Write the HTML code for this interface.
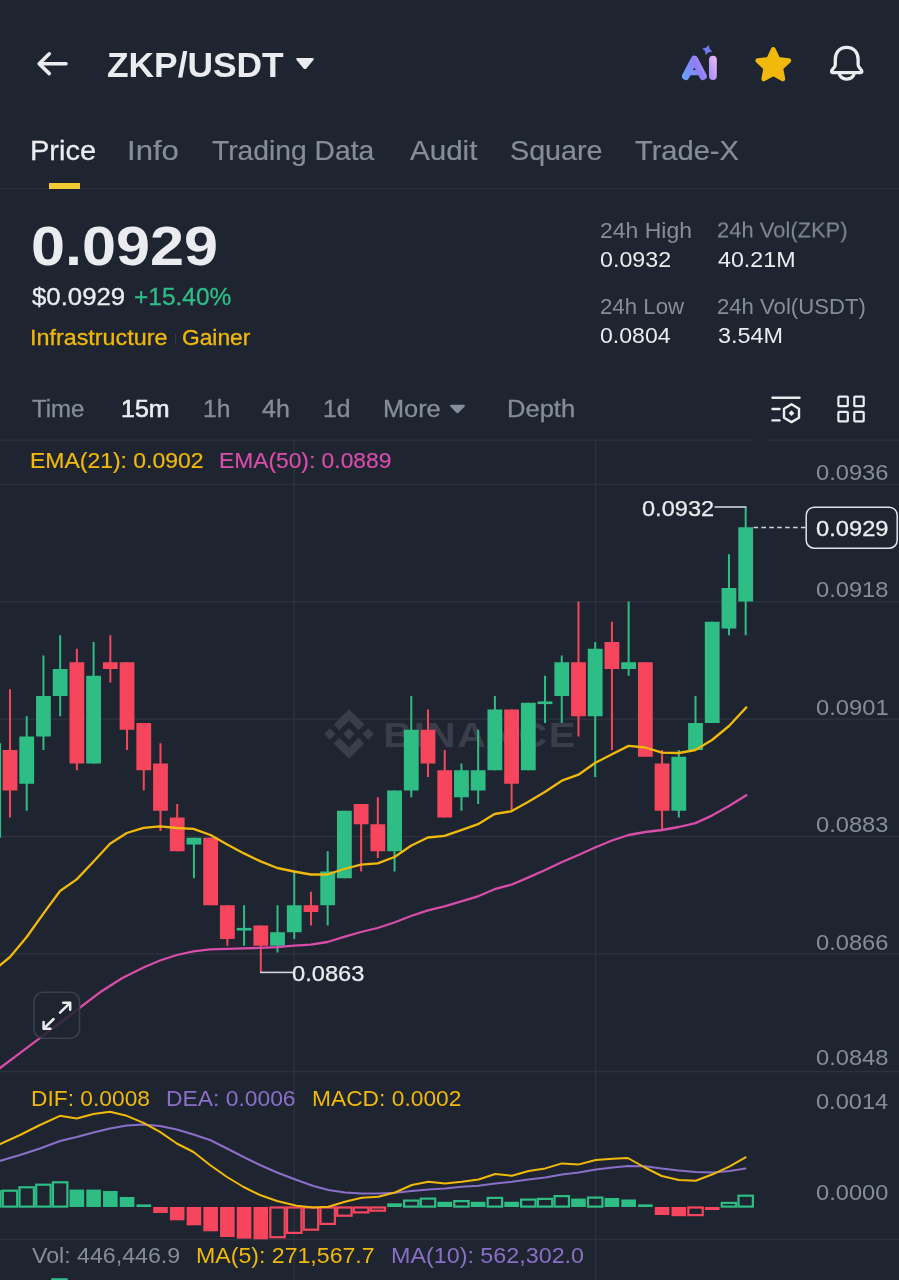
<!DOCTYPE html>
<html lang="en"><head><meta charset="utf-8"><title>ZKP/USDT</title>
<style>
*{margin:0;padding:0;box-sizing:border-box}
html,body{width:899px;height:1280px;overflow:hidden;background:#1f2530}
body{position:relative;font-family:"Liberation Sans",sans-serif;color:#eaecef}
.t{position:absolute;white-space:nowrap;transform-origin:0 0;will-change:transform}
svg{position:absolute;left:0;top:0}
.bar{position:absolute;background:#f3cb33}
.sep{position:absolute;left:0;width:899px;height:1.5px;background:#2a2f3a}
</style></head><body>
<div class="sep" style="top:187.7px"></div>
<div class="bar" style="left:48.5px;top:183px;width:31.5px;height:5.5px"></div>
<div style="position:absolute;left:175px;top:334px;width:1.3px;height:10px;background:#343944"></div>
<svg id="chart" width="899" height="1280" viewBox="0 0 899 1280">
<rect x="0" y="483.65" width="899" height="1.5" fill="#2c323d"/>
<rect x="0" y="601.05" width="899" height="1.5" fill="#2c323d"/>
<rect x="0" y="718.45" width="899" height="1.5" fill="#2c323d"/>
<rect x="0" y="835.85" width="899" height="1.5" fill="#2c323d"/>
<rect x="0" y="953.25" width="899" height="1.5" fill="#2c323d"/>
<rect x="0" y="439.45" width="899" height="1.5" fill="#2c323d"/>
<rect x="0" y="1070.85" width="899" height="1.5" fill="#2c323d"/>
<rect x="0" y="1238.75" width="899" height="1.5" fill="#2c323d"/>
<rect x="293.45" y="440" width="1.5" height="840" fill="#2c323d"/>
<rect x="594.85" y="440" width="1.5" height="840" fill="#2c323d"/>
<g fill="#393e4a" transform="translate(349,734) scale(0.394)"><path d="M0-63 L-39-24 L-24.5-9.5 L0-34 L24.5-9.5 L39-24 Z"/><path d="M-63 0 L-48.5-14.5 L-34 0 L-48.5 14.5 Z"/><path d="M63 0 L48.5-14.5 L34 0 L48.5 14.5 Z"/><path d="M0-14.5 L14.5 0 L0 14.5 L-14.5 0 Z"/><path d="M0 63 L-39 24 L-24.5 9.5 L0 34 L24.5 9.5 L39 24 Z"/></g>
<text transform="translate(383.2,746.8) scale(1.1,1)" font-family="Liberation Sans, sans-serif" font-weight="700" font-size="36" letter-spacing="1.75" fill="#393e4a">BINANCE</text>
<rect x="-0.5" y="743.25" width="1.6" height="94.5" fill="#2ebd85"/>
<rect x="9.00" y="689.25" width="2" height="128.25" fill="#f6465d"/>
<rect x="2.60" y="750.00" width="14.8" height="40.50" fill="#f6465d"/>
<rect x="25.72" y="716.25" width="2" height="94.50" fill="#2ebd85"/>
<rect x="19.32" y="736.50" width="14.8" height="47.25" fill="#2ebd85"/>
<rect x="42.44" y="655.50" width="2" height="94.50" fill="#2ebd85"/>
<rect x="36.04" y="696.00" width="14.8" height="40.50" fill="#2ebd85"/>
<rect x="59.16" y="635.25" width="2" height="81.00" fill="#2ebd85"/>
<rect x="52.76" y="669.00" width="14.8" height="27.00" fill="#2ebd85"/>
<rect x="75.88" y="648.75" width="2" height="121.50" fill="#f6465d"/>
<rect x="69.48" y="662.25" width="14.8" height="101.25" fill="#f6465d"/>
<rect x="92.60" y="642.00" width="2" height="121.50" fill="#2ebd85"/>
<rect x="86.20" y="675.75" width="14.8" height="87.75" fill="#2ebd85"/>
<rect x="109.32" y="635.25" width="2" height="47.25" fill="#f6465d"/>
<rect x="102.92" y="662.25" width="14.8" height="6.75" fill="#f6465d"/>
<rect x="126.04" y="662.25" width="2" height="87.75" fill="#f6465d"/>
<rect x="119.64" y="662.25" width="14.8" height="67.50" fill="#f6465d"/>
<rect x="142.76" y="723.00" width="2" height="67.50" fill="#f6465d"/>
<rect x="136.36" y="723.00" width="14.8" height="47.25" fill="#f6465d"/>
<rect x="159.48" y="743.25" width="2" height="87.75" fill="#f6465d"/>
<rect x="153.08" y="763.50" width="14.8" height="47.25" fill="#f6465d"/>
<rect x="176.20" y="804.00" width="2" height="47.25" fill="#f6465d"/>
<rect x="169.80" y="817.50" width="14.8" height="33.75" fill="#f6465d"/>
<rect x="192.92" y="837.75" width="2" height="40.50" fill="#2ebd85"/>
<rect x="186.52" y="837.75" width="14.8" height="6.75" fill="#2ebd85"/>
<rect x="209.64" y="837.75" width="2" height="67.50" fill="#f6465d"/>
<rect x="203.24" y="837.75" width="14.8" height="67.50" fill="#f6465d"/>
<rect x="226.36" y="905.25" width="2" height="40.50" fill="#f6465d"/>
<rect x="219.96" y="905.25" width="14.8" height="33.75" fill="#f6465d"/>
<rect x="243.08" y="905.25" width="2" height="40.50" fill="#2ebd85"/>
<rect x="236.68" y="927.91" width="14.8" height="2.60" fill="#2ebd85"/>
<rect x="259.80" y="925.50" width="2" height="47.25" fill="#f6465d"/>
<rect x="253.40" y="925.50" width="14.8" height="20.25" fill="#f6465d"/>
<rect x="276.52" y="905.25" width="2" height="47.25" fill="#2ebd85"/>
<rect x="270.12" y="932.25" width="14.8" height="13.50" fill="#2ebd85"/>
<rect x="293.24" y="871.50" width="2" height="67.50" fill="#2ebd85"/>
<rect x="286.84" y="905.25" width="14.8" height="27.00" fill="#2ebd85"/>
<rect x="309.96" y="891.75" width="2" height="33.75" fill="#f6465d"/>
<rect x="303.56" y="905.25" width="14.8" height="6.75" fill="#f6465d"/>
<rect x="326.68" y="851.25" width="2" height="74.25" fill="#2ebd85"/>
<rect x="320.28" y="871.50" width="14.8" height="33.75" fill="#2ebd85"/>
<rect x="343.40" y="810.75" width="2" height="67.50" fill="#2ebd85"/>
<rect x="337.00" y="810.75" width="14.8" height="67.50" fill="#2ebd85"/>
<rect x="360.12" y="804.00" width="2" height="67.50" fill="#f6465d"/>
<rect x="353.72" y="804.00" width="14.8" height="20.25" fill="#f6465d"/>
<rect x="376.84" y="797.25" width="2" height="60.75" fill="#f6465d"/>
<rect x="370.44" y="824.25" width="14.8" height="27.00" fill="#f6465d"/>
<rect x="393.56" y="790.50" width="2" height="81.00" fill="#2ebd85"/>
<rect x="387.16" y="790.50" width="14.8" height="60.75" fill="#2ebd85"/>
<rect x="410.28" y="696.00" width="2" height="101.25" fill="#2ebd85"/>
<rect x="403.88" y="729.75" width="14.8" height="60.75" fill="#2ebd85"/>
<rect x="427.00" y="709.50" width="2" height="67.50" fill="#f6465d"/>
<rect x="420.60" y="729.75" width="14.8" height="33.75" fill="#f6465d"/>
<rect x="443.72" y="750.00" width="2" height="67.50" fill="#f6465d"/>
<rect x="437.32" y="770.25" width="14.8" height="47.25" fill="#f6465d"/>
<rect x="460.44" y="763.50" width="2" height="47.25" fill="#2ebd85"/>
<rect x="454.04" y="770.25" width="14.8" height="27.00" fill="#2ebd85"/>
<rect x="477.16" y="729.75" width="2" height="74.25" fill="#2ebd85"/>
<rect x="470.76" y="770.25" width="14.8" height="20.25" fill="#2ebd85"/>
<rect x="493.88" y="696.00" width="2" height="74.25" fill="#2ebd85"/>
<rect x="487.48" y="709.50" width="14.8" height="60.75" fill="#2ebd85"/>
<rect x="510.60" y="709.50" width="2" height="101.25" fill="#f6465d"/>
<rect x="504.20" y="709.50" width="14.8" height="74.25" fill="#f6465d"/>
<rect x="527.32" y="702.75" width="2" height="67.50" fill="#2ebd85"/>
<rect x="520.92" y="702.75" width="14.8" height="67.50" fill="#2ebd85"/>
<rect x="544.04" y="675.75" width="2" height="47.25" fill="#2ebd85"/>
<rect x="537.64" y="701.40" width="14.8" height="2.70" fill="#2ebd85"/>
<rect x="560.76" y="655.50" width="2" height="67.50" fill="#2ebd85"/>
<rect x="554.36" y="662.25" width="14.8" height="33.75" fill="#2ebd85"/>
<rect x="577.48" y="601.50" width="2" height="135.00" fill="#f6465d"/>
<rect x="571.08" y="662.25" width="14.8" height="54.00" fill="#f6465d"/>
<rect x="594.20" y="642.00" width="2" height="135.00" fill="#2ebd85"/>
<rect x="587.80" y="648.75" width="14.8" height="67.50" fill="#2ebd85"/>
<rect x="610.92" y="621.75" width="2" height="128.25" fill="#f6465d"/>
<rect x="604.52" y="642.00" width="14.8" height="27.00" fill="#f6465d"/>
<rect x="627.64" y="601.50" width="2" height="74.25" fill="#2ebd85"/>
<rect x="621.24" y="662.25" width="14.8" height="6.75" fill="#2ebd85"/>
<rect x="644.36" y="662.25" width="2" height="94.50" fill="#f6465d"/>
<rect x="637.96" y="662.25" width="14.8" height="94.50" fill="#f6465d"/>
<rect x="661.08" y="750.00" width="2" height="81.00" fill="#f6465d"/>
<rect x="654.68" y="763.50" width="14.8" height="47.25" fill="#f6465d"/>
<rect x="677.80" y="750.00" width="2" height="67.50" fill="#2ebd85"/>
<rect x="671.40" y="756.75" width="14.8" height="54.00" fill="#2ebd85"/>
<rect x="694.52" y="696.00" width="2" height="54.00" fill="#2ebd85"/>
<rect x="688.12" y="723.00" width="14.8" height="27.00" fill="#2ebd85"/>
<rect x="711.24" y="621.75" width="2" height="101.25" fill="#2ebd85"/>
<rect x="704.84" y="621.75" width="14.8" height="101.25" fill="#2ebd85"/>
<rect x="727.96" y="554.25" width="2" height="81.00" fill="#2ebd85"/>
<rect x="721.56" y="588.00" width="14.8" height="40.50" fill="#2ebd85"/>
<rect x="744.68" y="507.00" width="2" height="128.25" fill="#2ebd85"/>
<rect x="738.28" y="527.25" width="14.8" height="74.25" fill="#2ebd85"/>
<rect x="752" y="438" width="16" height="4" fill="#1f2530"/>
<rect x="714.5" y="506.2" width="32" height="1.6" fill="#cfd3da"/>
<rect x="260" y="971.6" width="33" height="1.6" fill="#cfd3da"/>
<line x1="753.5" y1="527.4" x2="806" y2="527.4" stroke="#cfd3da" stroke-width="1.5" stroke-dasharray="4.6 3.3"/>
<rect x="806.2" y="507.2" width="91" height="41" rx="8" ry="8" fill="#1f2530" stroke="#dfe2e7" stroke-width="1.5"/>
<path d="M-2.0 967.0 L10.0 957.0 L26.7 937.0 L43.4 913.6 L60.0 891.0 L76.7 879.4 L93.4 861.7 L110.0 843.8 L126.8 833.0 L143.5 827.8 L160.0 826.3 L176.8 828.0 L193.5 828.8 L210.5 835.0 L227.2 844.5 L244.0 853.4 L260.6 861.4 L277.3 868.0 L294.0 871.5 L310.8 874.5 L327.5 874.5 L344.0 869.0 L361.0 864.6 L377.6 863.3 L394.5 857.0 L411.0 845.8 L427.9 837.5 L444.5 835.8 L461.2 830.2 L478.0 824.2 L494.6 814.0 L511.3 811.3 L528.0 802.0 L544.8 792.0 L561.8 780.7 L578.5 774.7 L595.0 763.0 L612.0 754.2 L628.6 745.9 L645.3 747.5 L662.0 752.7 L678.8 753.0 L695.4 750.0 L712.0 740.0 L729.0 726.0 L746.3 707.4" fill="none" stroke="#f0b90b" stroke-width="2.3" stroke-linejoin="round" stroke-linecap="round"/>
<path d="M-2.0 1069.5 L22.2 1051.3 L44.5 1034.6 L66.7 1018.0 L80.0 1007.5 L100.0 992.3 L122.4 978.0 L144.6 967.0 L160.0 960.5 L176.8 955.0 L193.5 951.3 L210.0 949.4 L227.0 948.8 L244.0 948.3 L260.6 947.9 L277.3 947.2 L294.0 945.6 L310.8 944.6 L327.5 942.0 L344.0 936.8 L361.0 932.0 L377.5 928.0 L394.3 922.5 L411.0 916.0 L427.9 910.3 L444.5 906.3 L461.2 901.4 L478.0 896.3 L494.6 889.2 L511.3 884.7 L528.0 877.6 L544.7 870.3 L561.5 862.3 L578.5 855.0 L595.0 847.5 L612.0 840.5 L628.6 835.0 L645.4 832.0 L662.0 830.0 L678.8 827.0 L695.4 823.1 L712.0 815.6 L729.0 806.0 L746.3 795.3" fill="none" stroke="#d84caa" stroke-width="2.3" stroke-linejoin="round" stroke-linecap="round"/>
<rect x="-13.92" y="1191.10" width="14.4" height="15.50" fill="none" stroke="#2ebd85" stroke-width="2.2"/>
<rect x="2.80" y="1190.70" width="14.4" height="15.90" fill="none" stroke="#2ebd85" stroke-width="2.2"/>
<rect x="19.52" y="1187.30" width="14.4" height="19.30" fill="none" stroke="#2ebd85" stroke-width="2.2"/>
<rect x="36.24" y="1184.70" width="14.4" height="21.90" fill="none" stroke="#2ebd85" stroke-width="2.2"/>
<rect x="52.96" y="1182.30" width="14.4" height="24.30" fill="none" stroke="#2ebd85" stroke-width="2.2"/>
<rect x="69.58" y="1189.60" width="14.6" height="17.40" fill="#2ebd85"/>
<rect x="86.30" y="1189.60" width="14.6" height="17.40" fill="#2ebd85"/>
<rect x="103.02" y="1191.00" width="14.6" height="16.00" fill="#2ebd85"/>
<rect x="119.74" y="1197.00" width="14.6" height="10.00" fill="#2ebd85"/>
<rect x="136.46" y="1204.40" width="14.6" height="2.60" fill="#2ebd85"/>
<rect x="153.18" y="1207.00" width="14.6" height="6.00" fill="#f6465d"/>
<rect x="169.90" y="1207.00" width="14.6" height="13.30" fill="#f6465d"/>
<rect x="186.62" y="1207.00" width="14.6" height="18.30" fill="#f6465d"/>
<rect x="203.34" y="1207.00" width="14.6" height="24.30" fill="#f6465d"/>
<rect x="220.06" y="1207.00" width="14.6" height="30.00" fill="#f6465d"/>
<rect x="236.78" y="1207.00" width="14.6" height="31.60" fill="#f6465d"/>
<rect x="253.50" y="1207.00" width="14.6" height="32.30" fill="#f6465d"/>
<rect x="270.32" y="1207.50" width="14.4" height="29.70" fill="none" stroke="#f6465d" stroke-width="2.2"/>
<rect x="287.04" y="1207.50" width="14.4" height="25.40" fill="none" stroke="#f6465d" stroke-width="2.2"/>
<rect x="303.76" y="1207.50" width="14.4" height="22.20" fill="none" stroke="#f6465d" stroke-width="2.2"/>
<rect x="320.48" y="1207.50" width="14.4" height="16.40" fill="none" stroke="#f6465d" stroke-width="2.2"/>
<rect x="337.20" y="1207.50" width="14.4" height="8.20" fill="none" stroke="#f6465d" stroke-width="2.2"/>
<rect x="353.92" y="1207.50" width="14.4" height="4.90" fill="none" stroke="#f6465d" stroke-width="2.2"/>
<rect x="370.64" y="1207.50" width="14.4" height="3.20" fill="none" stroke="#f6465d" stroke-width="2.2"/>
<rect x="387.26" y="1203.30" width="14.6" height="3.70" fill="#2ebd85"/>
<rect x="404.08" y="1200.60" width="14.4" height="6.00" fill="none" stroke="#2ebd85" stroke-width="2.2"/>
<rect x="420.80" y="1198.60" width="14.4" height="8.00" fill="none" stroke="#2ebd85" stroke-width="2.2"/>
<rect x="437.42" y="1201.80" width="14.6" height="5.20" fill="#2ebd85"/>
<rect x="454.24" y="1201.10" width="14.4" height="5.50" fill="none" stroke="#2ebd85" stroke-width="2.2"/>
<rect x="470.86" y="1201.80" width="14.6" height="5.20" fill="#2ebd85"/>
<rect x="487.68" y="1197.90" width="14.4" height="8.70" fill="none" stroke="#2ebd85" stroke-width="2.2"/>
<rect x="504.30" y="1201.80" width="14.6" height="5.20" fill="#2ebd85"/>
<rect x="521.12" y="1199.60" width="14.4" height="7.00" fill="none" stroke="#2ebd85" stroke-width="2.2"/>
<rect x="537.84" y="1198.90" width="14.4" height="7.70" fill="none" stroke="#2ebd85" stroke-width="2.2"/>
<rect x="554.56" y="1196.10" width="14.4" height="10.50" fill="none" stroke="#2ebd85" stroke-width="2.2"/>
<rect x="571.18" y="1198.60" width="14.6" height="8.40" fill="#2ebd85"/>
<rect x="588.00" y="1197.60" width="14.4" height="9.00" fill="none" stroke="#2ebd85" stroke-width="2.2"/>
<rect x="604.62" y="1198.00" width="14.6" height="9.00" fill="#2ebd85"/>
<rect x="621.34" y="1199.50" width="14.6" height="7.50" fill="#2ebd85"/>
<rect x="638.06" y="1204.40" width="14.6" height="2.60" fill="#2ebd85"/>
<rect x="654.78" y="1207.00" width="14.6" height="8.00" fill="#f6465d"/>
<rect x="671.50" y="1207.00" width="14.6" height="9.20" fill="#f6465d"/>
<rect x="688.32" y="1207.50" width="14.4" height="7.60" fill="none" stroke="#f6465d" stroke-width="2.2"/>
<rect x="704.94" y="1207.00" width="14.6" height="3.00" fill="#f6465d"/>
<rect x="721.76" y="1202.90" width="14.4" height="3.70" fill="none" stroke="#2ebd85" stroke-width="2.2"/>
<rect x="738.48" y="1195.70" width="14.4" height="10.90" fill="none" stroke="#2ebd85" stroke-width="2.2"/>
<path d="M-2.0 1161.5 L20.0 1155.0 L40.0 1148.5 L60.0 1141.0 L76.7 1137.0 L93.4 1132.5 L110.0 1128.5 L126.8 1125.5 L143.5 1124.5 L160.0 1126.0 L176.8 1129.5 L193.5 1134.5 L210.0 1140.0 L227.0 1148.5 L243.6 1157.0 L260.0 1165.0 L277.0 1172.5 L296.7 1180.0 L313.4 1186.0 L328.4 1190.0 L345.0 1192.5 L361.7 1193.5 L378.4 1193.5 L395.0 1192.8 L411.8 1191.0 L428.5 1189.5 L445.0 1188.5 L461.8 1186.8 L478.5 1185.8 L495.2 1183.5 L512.0 1181.8 L528.6 1179.5 L545.3 1177.5 L562.0 1174.5 L578.9 1172.4 L595.8 1169.4 L612.8 1167.5 L627.9 1166.0 L644.8 1166.3 L661.8 1168.6 L678.8 1170.5 L695.7 1172.0 L712.7 1172.4 L729.7 1170.9 L745.5 1168.6" fill="none" stroke="#8a6fc9" stroke-width="2.0" stroke-linejoin="round" stroke-linecap="round"/>
<path d="M-2.0 1145.0 L20.0 1135.0 L40.0 1125.0 L60.0 1115.8 L76.7 1118.5 L93.4 1114.0 L110.0 1111.8 L126.8 1115.8 L143.5 1122.8 L160.0 1131.9 L176.8 1143.5 L193.5 1152.0 L210.0 1165.0 L227.0 1177.0 L243.6 1187.0 L260.0 1195.0 L277.0 1201.0 L296.7 1205.8 L313.4 1207.5 L328.4 1206.8 L345.0 1201.8 L361.7 1197.8 L378.4 1196.8 L395.0 1192.5 L411.8 1185.0 L428.5 1181.8 L445.0 1183.5 L461.8 1181.8 L478.5 1179.5 L495.2 1174.0 L512.0 1175.8 L528.6 1171.0 L545.3 1168.4 L562.0 1163.4 L578.9 1164.4 L595.8 1160.0 L612.8 1158.8 L627.9 1158.0 L644.8 1167.5 L661.8 1176.0 L678.8 1180.0 L695.7 1180.7 L712.7 1174.3 L729.7 1166.3 L745.5 1157.3" fill="none" stroke="#f0b90b" stroke-width="2.0" stroke-linejoin="round" stroke-linecap="round"/>
<rect x="52.3" y="1279.2" width="14.4" height="6" fill="none" stroke="#2ebd85" stroke-width="2"/>
<rect x="34" y="992.3" width="45.5" height="46" rx="9" fill="#1f2530" fill-opacity="0.85" stroke="#3b404b" stroke-width="1.6"/>
<g stroke="#eaecef" stroke-width="2.5" fill="none" stroke-linecap="round" stroke-linejoin="round"><path d="M60 1012.6 L69.8 1003.2"/><path d="M63.2 1002.8 L70.2 1002.8 L70.2 1009.8"/><path d="M53.6 1019 L44 1028.4"/><path d="M43.6 1022 L43.6 1028.8 L50.4 1028.8"/></g>
</svg>
<svg id="icons" width="899" height="1280" viewBox="0 0 899 1280">

<defs><linearGradient id="aig" x1="682" y1="80" x2="717" y2="62" gradientUnits="userSpaceOnUse"><stop offset="0" stop-color="#62a6ff"/><stop offset="0.5" stop-color="#8f7ef6"/><stop offset="1" stop-color="#e3b5f4"/></linearGradient></defs>
<g fill="none" stroke="#eaecef" stroke-width="3.6" stroke-linecap="round" stroke-linejoin="round"><path d="M66 63.7 H39.6"/><path d="M49.3 53.8 L39.2 63.7 L49.3 73.6"/></g>
<path d="M298 58 H312 Q315 58 313.2 60.3 L306.6 68.2 Q305 70 303.4 68.2 L296.8 60.3 Q295 58 298 58Z" fill="#eaecef"/>
<path d="M451.5 404.8 H463.5 Q466 404.8 464.4 406.7 L458.8 412.6 Q457.5 414 456.2 412.6 L450.6 406.7 Q449 404.8 451.5 404.8Z" fill="#848e9c"/>
<g fill="none" stroke="url(#aig)" stroke-linecap="round" stroke-linejoin="round"><path d="M685.7 76.3 L694.4 59.4 L703.1 76.3" stroke-width="7.4"/><path d="M689.5 72.6 H699.3" stroke-width="5.4"/><path d="M712.9 59.6 V76.1" stroke-width="7.8"/></g>
<path d="M707.3 45.6 Q708.1 49.2 711.7 50 Q708.1 50.8 707.3 54.4 Q706.5 50.8 702.9 50 Q706.5 49.2 707.3 45.6Z" fill="#6f7df2" stroke="#6f7df2" stroke-width="1" stroke-linejoin="round" transform="rotate(18 707.3 50)"/>
<path d="M773.3 49.3 L778.0 59.2 L788.9 60.6 L780.9 68.2 L782.9 79.0 L773.3 73.7 L763.7 79.0 L765.7 68.2 L757.7 60.6 L768.6 59.2Z" fill="#f0b90b" stroke="#f0b90b" stroke-width="4.6" stroke-linejoin="round"/>
<g fill="none" stroke="#eaecef" stroke-width="3.3" stroke-linecap="round" stroke-linejoin="round" transform="translate(0,-0.7)"><path d="M846.7 48 C839 48 835.3 53.8 835.3 60 V65.5 C835.3 68.5 831.6 70 831.6 72.2 Q831.6 73.3 833 73.3 H860.4 Q861.8 73.3 861.8 72.2 C861.8 70 858.1 68.5 858.1 65.5 V60 C858.1 53.8 854.4 48 846.7 48Z"/><path d="M839.3 74 A7.4 5.8 0 0 0 854.1 74"/></g>
<g fill="none" stroke="#eaecef" stroke-width="2.4" stroke-linecap="round" stroke-linejoin="round"><path d="M772.5 397.8 H799.5"/><path d="M772.5 409 H779.5"/><path d="M772.5 420.4 H779.5"/><path d="M791.5 404.3 L799 408.7 V417.7 L791.5 422.1 L784 417.7 V408.7Z"/></g>
<path d="M791.5 410.3 L794.4 413.2 L791.5 416.1 L788.6 413.2Z" fill="#eaecef"/>
<g fill="none" stroke="#eaecef" stroke-width="2.2" stroke-linejoin="round"><rect x="838.4" y="396.7" width="9.4" height="9.4" rx="0.8"/><rect x="854.3" y="396.7" width="9.4" height="9.4" rx="0.8"/><rect x="838.4" y="411.9" width="9.4" height="9.4" rx="0.8"/><rect x="854.3" y="411.9" width="9.4" height="9.4" rx="0.8"/></g>

</svg>
<div class="t " style="left:106.75px;top:47.02px;font-size:35px;line-height:35px;color:#eaecef;font-weight:700;transform:translateY(0.00px) scaleX(1.0093)">ZKP/USDT</div>
<div class="t " style="left:30.12px;top:135.52px;font-size:28px;line-height:28px;color:#eaecef;font-weight:400;-webkit-text-stroke:0.3px #eaecef;transform:translateY(0.50px) scaleX(1.0373)">Price</div>
<div class="t " style="left:127.13px;top:135.52px;font-size:28px;line-height:28px;color:#868d99;font-weight:400;-webkit-text-stroke:0.2px #868d99;transform:translateY(0.50px) scaleX(1.1108)">Info</div>
<div class="t " style="left:212.07px;top:135.52px;font-size:28px;line-height:28px;color:#868d99;font-weight:400;-webkit-text-stroke:0.2px #868d99;transform:translateY(0.50px) scaleX(1.0091)">Trading Data</div>
<div class="t " style="left:410.34px;top:135.52px;font-size:28px;line-height:28px;color:#868d99;font-weight:400;-webkit-text-stroke:0.2px #868d99;transform:translateY(0.50px) scaleX(1.0557)">Audit</div>
<div class="t " style="left:509.70px;top:135.52px;font-size:28px;line-height:28px;color:#868d99;font-weight:400;-webkit-text-stroke:0.2px #868d99;transform:translateY(0.50px) scaleX(1.0254)">Square</div>
<div class="t " style="left:635.35px;top:135.52px;font-size:28px;line-height:28px;color:#868d99;font-weight:400;-webkit-text-stroke:0.2px #868d99;transform:translateY(0.50px) scaleX(1.0377)">Trade-X</div>
<div class="t " style="left:30.88px;top:218.52px;font-size:55px;line-height:55px;color:#eaecef;font-weight:700;transform:translateY(0.30px) scaleX(1.1122)">0.0929</div>
<div class="t " style="left:31.72px;top:284.52px;font-size:23px;line-height:23px;color:#eaecef;font-weight:400;-webkit-text-stroke:0.3px #eaecef;transform:translateY(0.50px) scaleX(1.1198)">$0.0929</div>
<div class="t " style="left:133.61px;top:284.52px;font-size:23px;line-height:23px;color:#2ebd85;font-weight:400;-webkit-text-stroke:0.3px #2ebd85;transform:translateY(0.50px) scaleX(1.0637)">+15.40%</div>
<div class="t " style="left:30.35px;top:326.52px;font-size:22px;line-height:22px;color:#f0b90b;font-weight:400;-webkit-text-stroke:0.3px #f0b90b;transform:translateY(0.30px) scaleX(1.0608)">Infrastructure</div>
<div class="t " style="left:181.66px;top:326.52px;font-size:22px;line-height:22px;color:#f0b90b;font-weight:400;-webkit-text-stroke:0.3px #f0b90b;transform:translateY(0.30px) scaleX(1.0347)">Gainer</div>
<div class="t " style="left:599.84px;top:218.52px;font-size:22px;line-height:22px;color:#868d99;font-weight:400;transform:translateY(0.50px) scaleX(1.0441)">24h High</div>
<div class="t " style="left:600.09px;top:247.52px;font-size:22px;line-height:22px;color:#eaecef;font-weight:400;transform:translateY(0.80px) scaleX(1.0563)">0.0932</div>
<div class="t " style="left:717.40px;top:218.52px;font-size:22px;line-height:22px;color:#868d99;font-weight:400;transform:translateY(0.50px) scaleX(0.9978)">24h Vol(ZKP)</div>
<div class="t " style="left:717.97px;top:247.52px;font-size:22px;line-height:22px;color:#eaecef;font-weight:400;transform:translateY(0.80px) scaleX(1.0567)">40.21M</div>
<div class="t " style="left:599.88px;top:294.52px;font-size:22px;line-height:22px;color:#868d99;font-weight:400;transform:translateY(0.50px) scaleX(1.0107)">24h Low</div>
<div class="t " style="left:600.10px;top:323.52px;font-size:22px;line-height:22px;color:#eaecef;font-weight:400;transform:translateY(0.60px) scaleX(1.0489)">0.0804</div>
<div class="t " style="left:717.39px;top:294.52px;font-size:22px;line-height:22px;color:#868d99;font-weight:400;transform:translateY(0.50px) scaleX(1.0056)">24h Vol(USDT)</div>
<div class="t " style="left:717.61px;top:323.52px;font-size:22px;line-height:22px;color:#eaecef;font-weight:400;transform:translateY(0.60px) scaleX(1.0649)">3.54M</div>
<div class="t " style="left:31.76px;top:397.52px;font-size:23px;line-height:23px;color:#868d99;font-weight:400;-webkit-text-stroke:0.3px #868d99;transform:translateY(0.10px) scaleX(1.0429)">Time</div>
<div class="t " style="left:120.90px;top:397.52px;font-size:23px;line-height:23px;color:#eaecef;font-weight:400;-webkit-text-stroke:0.6px #eaecef;transform:translateY(0.10px) scaleX(1.0850)">15m</div>
<div class="t " style="left:202.62px;top:397.52px;font-size:23px;line-height:23px;color:#868d99;font-weight:400;-webkit-text-stroke:0.3px #868d99;transform:translateY(0.10px) scaleX(1.0744)">1h</div>
<div class="t " style="left:262.43px;top:397.52px;font-size:23px;line-height:23px;color:#868d99;font-weight:400;-webkit-text-stroke:0.3px #868d99;transform:translateY(0.10px) scaleX(1.0865)">4h</div>
<div class="t " style="left:323.12px;top:397.52px;font-size:23px;line-height:23px;color:#868d99;font-weight:400;-webkit-text-stroke:0.3px #868d99;transform:translateY(0.10px) scaleX(1.0739)">1d</div>
<div class="t " style="left:382.92px;top:397.52px;font-size:23px;line-height:23px;color:#868d99;font-weight:400;-webkit-text-stroke:0.3px #868d99;transform:translateY(0.10px) scaleX(1.1012)">More</div>
<div class="t " style="left:506.90px;top:397.52px;font-size:23px;line-height:23px;color:#868d99;font-weight:400;-webkit-text-stroke:0.3px #868d99;transform:translateY(0.10px) scaleX(1.1105)">Depth</div>
<div class="t " style="left:30.42px;top:449.52px;font-size:22px;line-height:22px;color:#f0b90b;font-weight:400;-webkit-text-stroke:0.2px #f0b90b;transform:translateY(0.20px) scaleX(1.0435)">EMA(21): 0.0902</div>
<div class="t " style="left:219.13px;top:449.52px;font-size:22px;line-height:22px;color:#d84caa;font-weight:400;-webkit-text-stroke:0.2px #d84caa;transform:translateY(0.20px) scaleX(1.0363)">EMA(50): 0.0889</div>
<div class="t " style="left:816.07px;top:461.52px;font-size:22px;line-height:22px;color:#868d99;font-weight:400;transform:translateY(0.00px) scaleX(1.0769)">0.0936</div>
<div class="t " style="left:816.07px;top:578.52px;font-size:22px;line-height:22px;color:#868d99;font-weight:400;transform:translateY(0.30px) scaleX(1.0768)">0.0918</div>
<div class="t " style="left:816.07px;top:695.52px;font-size:22px;line-height:22px;color:#868d99;font-weight:400;transform:translateY(0.70px) scaleX(1.0787)">0.0901</div>
<div class="t " style="left:816.07px;top:813.52px;font-size:22px;line-height:22px;color:#868d99;font-weight:400;transform:translateY(0.00px) scaleX(1.0769)">0.0883</div>
<div class="t " style="left:816.07px;top:930.52px;font-size:22px;line-height:22px;color:#868d99;font-weight:400;transform:translateY(0.50px) scaleX(1.0769)">0.0866</div>
<div class="t " style="left:816.07px;top:1046.52px;font-size:22px;line-height:22px;color:#868d99;font-weight:400;transform:translateY(0.40px) scaleX(1.0768)">0.0848</div>
<div class="t " style="left:816.08px;top:1090.52px;font-size:22px;line-height:22px;color:#868d99;font-weight:400;transform:translateY(0.40px) scaleX(1.0717)">0.0014</div>
<div class="t " style="left:816.08px;top:1181.52px;font-size:22px;line-height:22px;color:#868d99;font-weight:400;transform:translateY(0.00px) scaleX(1.0752)">0.0000</div>
<div class="t " style="left:642.08px;top:497.52px;font-size:22px;line-height:22px;color:#eaecef;font-weight:400;-webkit-text-stroke:0.25px #eaecef;transform:translateY(0.30px) scaleX(1.0716)">0.0932</div>
<div class="t " style="left:292.07px;top:961.52px;font-size:22px;line-height:22px;color:#eaecef;font-weight:400;-webkit-text-stroke:0.25px #eaecef;transform:translateY(0.70px) scaleX(1.0769)">0.0863</div>
<div class="t " style="left:816.07px;top:516.52px;font-size:22px;line-height:22px;color:#eaecef;font-weight:400;-webkit-text-stroke:0.3px #eaecef;transform:translateY(0.60px) scaleX(1.0782)">0.0929</div>
<div class="t " style="left:30.83px;top:1087.52px;font-size:22px;line-height:22px;color:#f0b90b;font-weight:400;transform:translateY(0.00px) scaleX(1.0348)">DIF: 0.0008</div>
<div class="t " style="left:165.93px;top:1087.52px;font-size:22px;line-height:22px;color:#8a6fc9;font-weight:400;transform:translateY(0.00px) scaleX(1.0387)">DEA: 0.0006</div>
<div class="t " style="left:311.73px;top:1087.52px;font-size:22px;line-height:22px;color:#f0b90b;font-weight:400;transform:translateY(0.00px) scaleX(1.0355)">MACD: 0.0002</div>
<div class="t " style="left:31.90px;top:1243.52px;font-size:22px;line-height:22px;color:#868d99;font-weight:400;transform:translateY(0.50px) scaleX(1.0529)">Vol: 446,446.9</div>
<div class="t " style="left:196.30px;top:1243.52px;font-size:22px;line-height:22px;color:#f0b90b;font-weight:400;transform:translateY(0.50px) scaleX(1.0510)">MA(5): 271,567.7</div>
<div class="t " style="left:390.59px;top:1243.52px;font-size:22px;line-height:22px;color:#8a6fc9;font-weight:400;transform:translateY(0.50px) scaleX(1.0593)">MA(10): 562,302.0</div>
</body></html>
